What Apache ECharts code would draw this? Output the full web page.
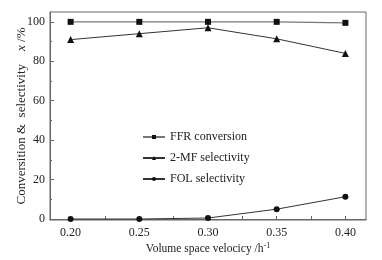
<!DOCTYPE html>
<html>
<head>
<meta charset="utf-8">
<script src="https://cdn.jsdelivr.net/npm/echarts@6/dist/echarts.min.js"></script>
<style>
html,body{margin:0;padding:0;background:#fff;}
#chart{width:382px;height:260px;}
</style>
</head>
<body>
<div id="chart"></div>
<script>
// values
var velocity = [0.20, 0.25, 0.30, 0.35, 0.40];
var ffrConversion = [100, 100, 100, 100, 99.5];
var mfSelectivity = [91, 94, 97, 91.4, 84];
var folSelectivity = [0, 0, 0.5, 5, 11.3];
var xTickLabels = [0.20, 0.25, 0.30, 0.35, 0.40];
var xTicks = [0.20, 0.225, 0.25, 0.275, 0.30, 0.325, 0.35, 0.375, 0.40];
var yTickLabels = [0, 20, 40, 60, 80, 100];
var yMinorTicks = [10, 30, 50, 70, 90];

var font = 'Liberation Serif';
var txt = '#222';
var axisCol = '#666';

function pairs(ys){
    return velocity.map(function(v,i){ return [v, ys[i]]; });
}

var chart = echarts.init(document.getElementById('chart'));
chart.setOption({
    animation:false,
    grid:{
        left:50,
        right:16,
        top:12,
        bottom:40,
        outerBoundsMode:'none',
        containLabel:false,
        show:true,
        borderColor:axisCol,
        borderWidth:1
    },
    legend:{
        orient:'vertical',
        left:137,
        top:126,
        itemWidth:22,
        itemHeight:5,
        itemGap:9,
        textStyle:{fontFamily:font, fontSize:12, color:txt},
        data:['FFR conversion','2-MF selectivity','FOL selectivity']
    },
    xAxis:{
        type:'value',
        min:0.185,
        max:0.415,
        name:'Volume space velocicy /h{s|-1}',
        nameLocation:'middle',
        nameGap:22,
        nameMoveOverlap:false,
        nameTextStyle:{
            fontFamily:font, fontSize:11.5, color:txt,
            rich:{s:{fontFamily:font, fontSize:8, color:txt, verticalAlign:'top', padding:[0,0,6,0]}}
        },
        axisLine:{lineStyle:{color:axisCol}},
        axisTick:{inside:true, length:3, lineStyle:{color:axisCol}, customValues:xTicks},
        axisLabel:{
            fontFamily:font, fontSize:12, color:txt, margin:7,
            customValues:xTickLabels,
            formatter:function(v){ return v.toFixed(2); }
        },
        splitLine:{show:false}
    },
    yAxis:[{
        type:'value',
        min:-0.5,
        max:105,
        name:'Conversition &  selectivity    {i|x} /%',
        nameLocation:'middle',
        nameGap:22,
        nameMoveOverlap:false,
        nameTextStyle:{
            fontFamily:font, fontSize:13, color:txt,
            rich:{i:{fontFamily:font, fontSize:13, color:txt, fontStyle:'italic'}}
        },
        axisLine:{lineStyle:{color:axisCol}},
        axisTick:{inside:true, length:4, lineStyle:{color:axisCol}, customValues:yTickLabels},
        axisLabel:{fontFamily:font, fontSize:12, color:txt, margin:5, customValues:yTickLabels},
        splitLine:{show:false}
    },{
        type:'value',
        position:'left',
        min:-0.5,
        max:105,
        axisLine:{show:false},
        axisTick:{inside:true, length:2, lineStyle:{color:axisCol}, customValues:yMinorTicks},
        axisLabel:{show:false},
        splitLine:{show:false}
    }],
    series:[{
        name:'FFR conversion',
        type:'line',
        data:pairs(ffrConversion),
        symbol:'rect',
        symbolSize:6,
        itemStyle:{color:'#111'},
        lineStyle:{color:'#777', width:1.2}
    },{
        name:'2-MF selectivity',
        type:'line',
        data:pairs(mfSelectivity),
        symbol:'triangle',
        symbolSize:7,
        itemStyle:{color:'#111'},
        lineStyle:{color:'#333', width:1}
    },{
        name:'FOL selectivity',
        type:'line',
        data:pairs(folSelectivity),
        symbol:'circle',
        symbolSize:6,
        itemStyle:{color:'#111'},
        lineStyle:{color:'#333', width:1}
    }]
});
</script>
</body>
</html>
